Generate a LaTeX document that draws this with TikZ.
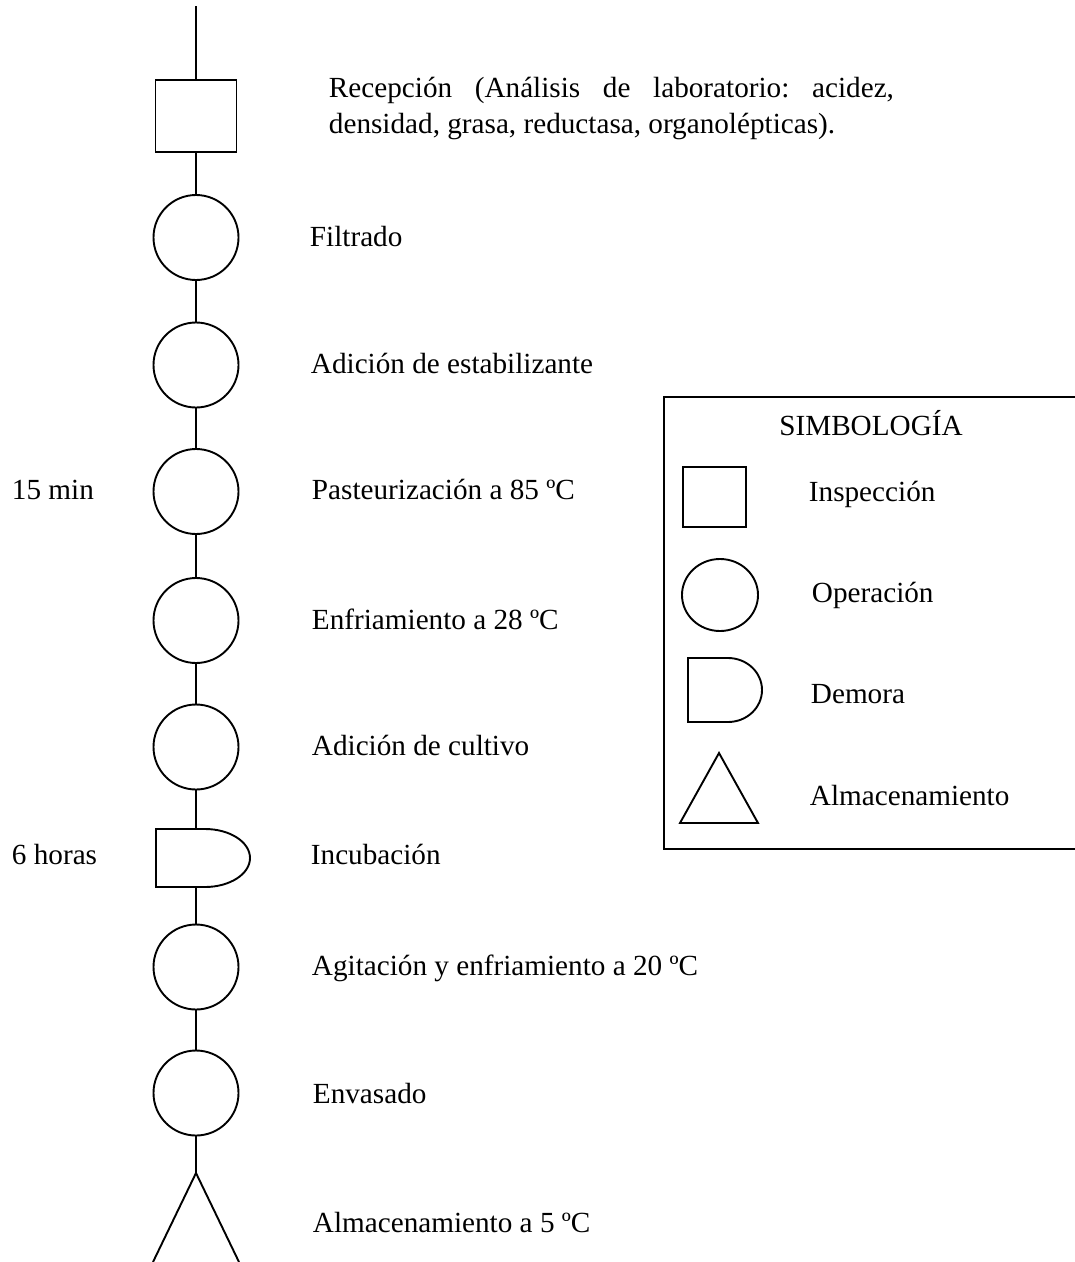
\documentclass[tikz,border=0pt]{standalone}
\usepackage{fontspec}
\setmainfont{Liberation Serif}
\usetikzlibrary{shapes.geometric}
\frenchspacing
\begin{document}
\begin{tikzpicture}[x=1pt,y=-1pt,line width=1.9pt,
  lbl/.style={anchor=base west,inner sep=0pt,font=\fontsize{29.2}{35.5}\selectfont},
  clbl/.style={anchor=base,inner sep=0pt,font=\fontsize{29.2}{35.5}\selectfont},
  opcirc/.style={draw,circle,minimum size=85pt,inner sep=0pt},
  inspbox/.style={draw,rectangle,minimum width=81pt,minimum height=72pt,inner sep=0pt},
  conn/.style={draw,line width=1.9pt}]
\useasboundingbox (0,0) rectangle (1075,1262);

% ---- main flow ----
\coordinate (top) at (196,6);
\node[inspbox] (sq) at (196,116) {};
\node[opcirc] (c1) at (196,237.5) {};
\node[opcirc] (c2) at (196,365) {};
\node[opcirc] (c3) at (196,491.5) {};
\node[opcirc] (c4) at (196,620.5) {};
\node[opcirc] (c5) at (196,747) {};
\coordinate (dtop) at (196,829);
\coordinate (dbot) at (196,887);
\draw (156,829) -- (dtop) -- (205,829) .. controls (229.9,829) and (250,842) .. (250,858)
      .. controls (250,874) and (229.9,887) .. (205,887) -- (dbot) -- (156,887) -- cycle;
\node[opcirc] (c6) at (196,967) {};
\node[opcirc] (c7) at (196,1093) {};
\coordinate (apex) at (196,1173);
\draw (153,1262) -- (apex) -- (239,1262);

\path[conn] (top) -- (sq.north);
\path[conn] (sq.south) -- (c1.north);
\path[conn] (c1.south) -- (c2.north);
\path[conn] (c2.south) -- (c3.north);
\path[conn] (c3.south) -- (c4.north);
\path[conn] (c4.south) -- (c5.north);
\path[conn] (c5.south) -- (dtop);
\path[conn] (dbot) -- (c6.north);
\path[conn] (c6.south) -- (c7.north);
\path[conn] (c7.south) -- (apex);

% ---- labels ----
\node[lbl] (t0a) at (328,97.7) {\makebox[565pt][s]{Recepción (Análisis de laboratorio: acidez,}};
\node[lbl] (t0b) at (328,133.3) {densidad, grasa, reductasa, organolépticas).};
\node[lbl] (t1) at (309,246.5) {Filtrado};
\node[lbl] (t2) at (310,373) {Adición de estabilizante};
\node[lbl] (t3) at (311,499) {Pasteurización a 85 ºC};
\node[lbl] (t4) at (311,629) {Enfriamiento a 28 ºC};
\node[lbl] (t5) at (311,755) {Adición de cultivo};
\node[lbl] (t6) at (310,864) {Incubación};
\node[lbl] (t7) at (311,975) {Agitación y enfriamiento a 20 ºC};
\node[lbl] (t8) at (312,1103) {Envasado};
\node[lbl] (t9) at (312,1232) {Almacenamiento a 5 ºC};
\node[lbl] (l1) at (11,499) {15 min};
\node[lbl] (l2) at (11,864) {6 horas};

% ---- legend ----
\draw (1077,397) -- (664,397) -- (664,849) -- (1077,849);
\node[clbl] (lt) at (871,435) {SIMBOLOGÍA};
\node[draw,rectangle,minimum width=63pt,minimum height=60pt,inner sep=0pt] (lsq) at (714.5,497) {};
\node[lbl] (li) at (808,501) {Inspección};
\node[draw,ellipse,minimum width=76pt,minimum height=72pt,inner sep=0pt] (lci) at (720,595) {};
\node[lbl] (lo) at (811,602) {Operación};
\draw (688,658) -- (728,658) .. controls (746.8,658) and (762,672.3) .. (762,690)
      .. controls (762,707.7) and (746.8,722) .. (728,722) -- (688,722) -- cycle;
\node[lbl] (ld) at (810,703) {Demora};
\draw (719,753) -- (758,823) -- (680,823) -- cycle;
\node[lbl] (la) at (809,805) {Almacenamiento};
\end{tikzpicture}
\end{document}
